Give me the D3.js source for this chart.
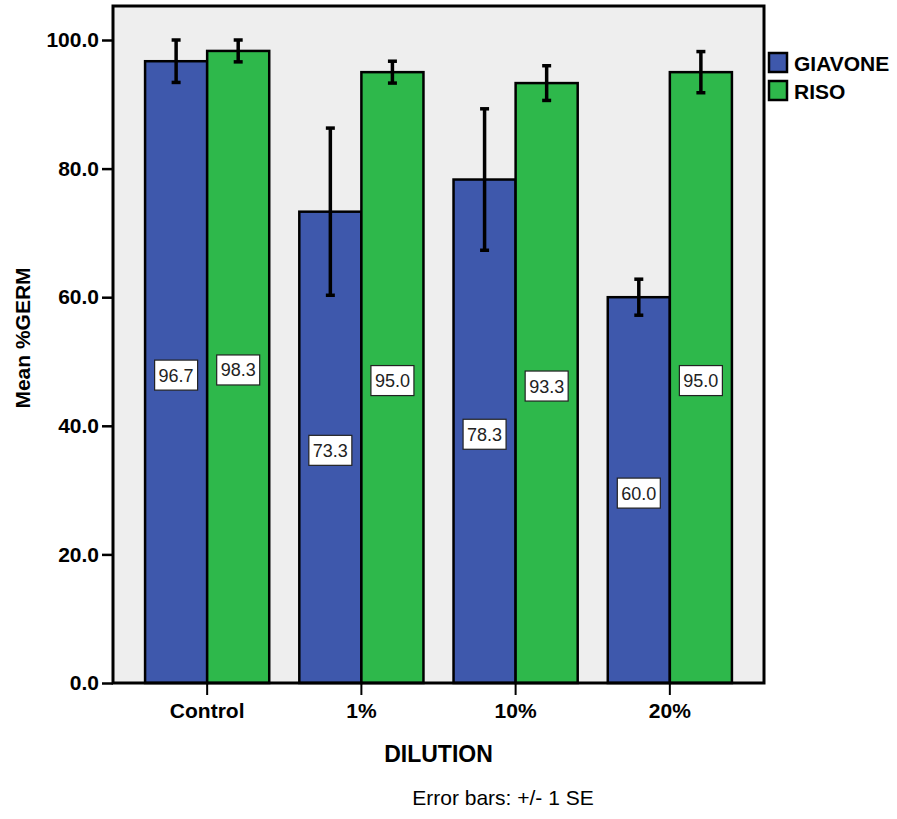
<!DOCTYPE html>
<html>
<head>
<meta charset="utf-8">
<script src="https://cdn.jsdelivr.net/npm/d3@7"></script>
<style>
  html, body { margin: 0; padding: 0; background: #ffffff; }
  svg { display: block; font-family: "Liberation Sans", Arial, sans-serif; }
</style>
</head>
<body>
<svg id="chart" width="897" height="819"></svg>
<script>
const categories = ["Control", "1%", "10%", "20%"];
const seriesNames = ["GIAVONE", "RISO"];
const giavone = [96.7, 73.3, 78.3, 60.0];
const riso = [98.3, 95.0, 93.3, 95.0];
const giavoneSE = [3.3, 13.0, 11.0, 2.8];
const risoSE = [1.7, 1.7, 2.7, 3.2];
const yTicks = [0, 20, 40, 60, 80, 100];
const colors = ["#3E58AC", "#2EB84B"];

const svg = d3.select("#chart");
const pLeft = 113, pRight = 764, pTop = 6, pBottom = 683;

const y = d3.scaleLinear().domain([0, 100]).range([pBottom, 40]);
const x = d3.scaleBand().domain(categories).range([pLeft, pRight])
  .paddingInner(0.195).paddingOuter(0.208);
const xs = d3.scaleBand().domain(seriesNames).range([0, x.bandwidth()]).padding(0);

// plot background
svg.append("rect").attr("x", pLeft).attr("y", pTop)
  .attr("width", pRight - pLeft).attr("height", pBottom - pTop)
  .attr("fill", "#EEEEEE");

const data = [];
categories.forEach((c, i) => {
  data.push({cat: c, s: "GIAVONE", v: giavone[i], se: giavoneSE[i], col: colors[0]});
  data.push({cat: c, s: "RISO", v: riso[i], se: risoSE[i], col: colors[1]});
});

// bars
svg.append("g").selectAll("rect").data(data).join("rect")
  .attr("x", d => x(d.cat) + xs(d.s))
  .attr("y", d => y(d.v))
  .attr("width", xs.bandwidth())
  .attr("height", d => y(0) - y(d.v))
  .attr("fill", d => d.col)
  .attr("stroke", "#000").attr("stroke-width", 2.5);

// error bars
const eb = svg.append("g");
data.forEach(d => {
  const cx = x(d.cat) + xs(d.s) + xs.bandwidth() / 2;
  eb.append("line").attr("x1", cx).attr("x2", cx)
    .attr("y1", y(d.v + d.se)).attr("y2", y(d.v - d.se))
    .attr("stroke", "#000").attr("stroke-width", 3.5);
  [d.v + d.se, d.v - d.se].forEach(v => {
    eb.append("line").attr("x1", cx - 4.5).attr("x2", cx + 4.5)
      .attr("y1", y(v)).attr("y2", y(v))
      .attr("stroke", "#000").attr("stroke-width", 3.5);
  });
});

// value labels
const lab = svg.append("g");
data.forEach(d => {
  const cx = x(d.cat) + xs(d.s) + xs.bandwidth() / 2;
  const cy = y(d.v / 2) + 3;
  lab.append("rect").attr("x", cx - 21.5).attr("y", cy - 15)
    .attr("width", 43).attr("height", 30)
    .attr("fill", "#fff").attr("stroke", "#222").attr("stroke-width", 1.2);
  lab.append("text").attr("x", cx).attr("y", cy + 6.5)
    .attr("text-anchor", "middle").attr("font-size", 18).attr("fill", "#222")
    .text(d.v.toFixed(1));
});

// frame
svg.append("rect").attr("x", pLeft).attr("y", pTop)
  .attr("width", pRight - pLeft).attr("height", pBottom - pTop)
  .attr("fill", "none").attr("stroke", "#000").attr("stroke-width", 3);

// y axis
const yAxis = d3.axisLeft(y).tickValues(yTicks).tickFormat(d3.format(".1f"))
  .tickSize(11).tickPadding(3);
const yg = svg.append("g").attr("transform", `translate(${pLeft},0)`).call(yAxis);
yg.select(".domain").remove();
yg.selectAll(".tick line").attr("stroke", "#000").attr("stroke-width", 2.5);
yg.selectAll(".tick text").attr("font-size", 21).attr("font-weight", "bold")
  .attr("fill", "#000").attr("font-family", "Liberation Sans, Arial, sans-serif");

// x axis
const xAxis = d3.axisBottom(x).tickSize(12).tickPadding(8);
const xg = svg.append("g").attr("transform", `translate(0,${pBottom})`).call(xAxis);
xg.select(".domain").remove();
xg.selectAll(".tick line").attr("stroke", "#000").attr("stroke-width", 2);
xg.selectAll(".tick text").attr("font-size", 21).attr("font-weight", "bold")
  .attr("fill", "#000").attr("font-family", "Liberation Sans, Arial, sans-serif");

// axis titles
svg.append("text").attr("x", (pLeft + pRight) / 2).attr("y", 762)
  .attr("text-anchor", "middle").attr("font-size", 23).attr("font-weight", "bold")
  .text("DILUTION");
svg.append("text").attr("transform", "translate(30,338) rotate(-90)")
  .attr("text-anchor", "middle").attr("font-size", 21).attr("font-weight", "bold")
  .text("Mean %GERM");
svg.append("text").attr("x", 503).attr("y", 805)
  .attr("text-anchor", "middle").attr("font-size", 21)
  .text("Error bars: +/- 1 SE");

// legend
const lg = svg.append("g");
seriesNames.forEach((s, i) => {
  const yy = 53 + i * 28;
  lg.append("rect").attr("x", 769).attr("y", yy).attr("width", 18).attr("height", 19)
    .attr("fill", colors[i]).attr("stroke", "#000").attr("stroke-width", 2.5);
  lg.append("text").attr("x", 794).attr("y", yy + 18)
    .attr("font-size", 21).attr("font-weight", "bold").text(s);
});
</script>
</body>
</html>
